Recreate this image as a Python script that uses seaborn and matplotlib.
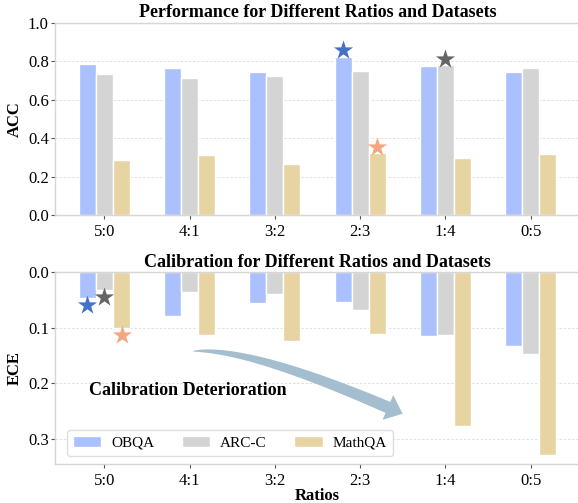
import numpy as np
import pandas as pd
import seaborn as sns
import matplotlib
matplotlib.use("Agg")
import matplotlib.pyplot as plt
from matplotlib.patches import Polygon
from matplotlib.transforms import IdentityTransform

# ---- data -------------------------------------------------------------
ratios = ["5:0", "4:1", "3:2", "2:3", "1:4", "0:5"]
datasets = ["OBQA", "ARC-C", "MathQA"]

acc_obqa = [0.786, 0.766, 0.743, 0.825, 0.778, 0.747]
acc_arcc = [0.734, 0.712, 0.726, 0.752, 0.780, 0.766]
acc_mathqa = [0.285, 0.312, 0.266, 0.321, 0.298, 0.318]

ece_obqa = [0.046, 0.078, 0.056, 0.054, 0.115, 0.133]
ece_arcc = [0.031, 0.036, 0.039, 0.068, 0.113, 0.147]
ece_mathqa = [0.100, 0.112, 0.124, 0.111, 0.276, 0.329]

bar_colors = ["#aac0ff", "#d4d4d4", "#e8d4a2"]
star_colors = ["#4472c4", "#666464", "#f4a67e"]

acc = {"OBQA": acc_obqa, "ARC-C": acc_arcc, "MathQA": acc_mathqa}
ece = {"OBQA": ece_obqa, "ARC-C": ece_arcc, "MathQA": ece_mathqa}

df = pd.DataFrame(
    [(r, d, acc[d][i], ece[d][i]) for d in datasets for i, r in enumerate(ratios)],
    columns=["Ratio", "Dataset", "ACC", "ECE"],
)

# ---- style ------------------------------------------------------------
sns.set_theme(style="whitegrid")
plt.rcParams["font.family"] = ["Liberation Serif", "DejaVu Serif"]
plt.rcParams.update({
    "text.color": "black",
    "axes.labelcolor": "black",
    "xtick.color": "black",
    "ytick.color": "black",
    "axes.edgecolor": "#d6d6d6",
    "axes.linewidth": 1.0,
})

fig = plt.figure(figsize=(5.78, 5.03), dpi=100)
ax_top = fig.add_axes([0.0952, 0.5726, 0.9083, 0.3817])
ax_bot = fig.add_axes([0.0952, 0.0769, 0.9083, 0.3817])

offsets = {d: (k - 1) * 0.2 for k, d in enumerate(datasets)}


def style_axes(ax):
    ax.set_xlim(-0.58, len(ratios) - 1 + 0.58)
    ax.xaxis.grid(False)
    ax.yaxis.grid(True, linestyle=(0, (3, 2)), linewidth=0.6, color="#dcdcdc")
    ax.set_axisbelow(True)
    ax.tick_params(axis="both", which="major", bottom=True, left=True,
                   length=3, width=0.8, color="#555555", labelsize=12)
    ax.tick_params(axis="y", pad=1.5)
    ax.tick_params(axis="x", pad=3.5)
    for s in ax.spines.values():
        s.set_color("#d6d6d6")
        s.set_linewidth(1.0)


# ---- accuracy ---------------------------------------------------------
sns.barplot(data=df, x="Ratio", y="ACC", hue="Dataset", order=ratios,
            hue_order=datasets, palette=bar_colors, width=0.6, saturation=1,
            edgecolor="white", linewidth=1, errorbar=None, legend=False,
            ax=ax_top)
ax_top.set_ylim(0, 1.0)
ax_top.set_yticks(np.arange(0, 1.01, 0.2))
ax_top.set_yticklabels([f"{v:.1f}" for v in np.arange(0, 1.01, 0.2)])
style_axes(ax_top)
ax_top.set_xlabel("")
ax_top.set_ylabel("ACC", fontsize=12, fontweight="bold")
ax_top.set_title("Performance for Different Ratios and Datasets",
                 fontsize=13, fontweight="bold", pad=4)

for d, c in zip(datasets, star_colors):
    i = int(np.argmax(acc[d]))
    ax_top.scatter(i + offsets[d], acc[d][i] + 0.033, marker="*", s=210,
                   color=c, linewidths=0, zorder=5)

# ---- calibration ------------------------------------------------------
sns.barplot(data=df, x="Ratio", y="ECE", hue="Dataset", order=ratios,
            hue_order=datasets, palette=bar_colors, width=0.6, saturation=1,
            edgecolor="white", linewidth=1, errorbar=None, legend=True,
            ax=ax_bot)
ece_max = max(max(v) for v in ece.values())
ax_bot.set_ylim(ece_max * 1.05, 0)
ax_bot.set_yticks([0.0, 0.1, 0.2, 0.3])
ax_bot.set_yticklabels(["0.0", "0.1", "0.2", "0.3"])
style_axes(ax_bot)
ax_bot.set_xlabel("Ratios", fontsize=12, fontweight="bold", labelpad=-1)
ax_bot.set_ylabel("ECE", fontsize=12, fontweight="bold")
ax_bot.set_title("Calibration for Different Ratios and Datasets",
                 fontsize=13, fontweight="bold", pad=4)

for d, c in zip(datasets, star_colors):
    i = int(np.argmin(ece[d]))
    ax_bot.scatter(i + offsets[d], ece[d][i] + 0.013, marker="*", s=210,
                   color=c, linewidths=0, zorder=5)

sns.move_legend(ax_bot, "lower left", bbox_to_anchor=(0.023, 0.043),
                borderaxespad=0, ncol=3, title=None, frameon=True,
                fontsize=11, framealpha=0.95, edgecolor="#dddddd",
                handlelength=1.85, handletextpad=0.65, columnspacing=1.8)


# ---- tapered curved arrow --------------------------------------------
def swoosh(ax, tail, ctrl, tip, shaft_w, head_w, head_len, color):
    """Quadratic-Bezier arrow whose shaft widens from a point at the tail."""
    to_px = ax.transData.transform
    p0, p1, pt = (np.asarray(to_px(p), dtype=float) for p in (tail, ctrl, tip))
    d = (pt - p1) / np.linalg.norm(pt - p1)
    p2 = pt - head_len * d
    t = np.linspace(0, 1, 80)[:, None]
    curve = (1 - t) ** 2 * p0 + 2 * t * (1 - t) * p1 + t ** 2 * p2
    tang = 2 * (1 - t) * (p1 - p0) + 2 * t * (p2 - p1)
    tang /= np.linalg.norm(tang, axis=1, keepdims=True)
    normal = np.column_stack([-tang[:, 1], tang[:, 0]])
    w = shaft_w * t[:, 0] ** 0.6 / 2
    upper = curve + normal * w[:, None]
    lower = curve - normal * w[:, None]
    n_end = np.array([-d[1], d[0]])
    head = [p2 + n_end * head_w / 2, pt, p2 - n_end * head_w / 2]
    pts = np.vstack([upper, head, lower[::-1]])
    ax.add_patch(Polygon(pts, closed=True, transform=IdentityTransform(),
                         facecolor=color, edgecolor="none", zorder=4))


swoosh(ax_bot, tail=(1.034, 0.142), ctrl=(1.68, 0.134), tip=(3.498, 0.2545),
       shaft_w=12, head_w=27, head_len=16, color="#a4bed0")

ax_bot.text(0.975, 0.2125, "Calibration Deterioration", fontsize=13,
            fontweight="bold", ha="center", va="center", zorder=6)

fig.savefig("out.png", dpi=100)
